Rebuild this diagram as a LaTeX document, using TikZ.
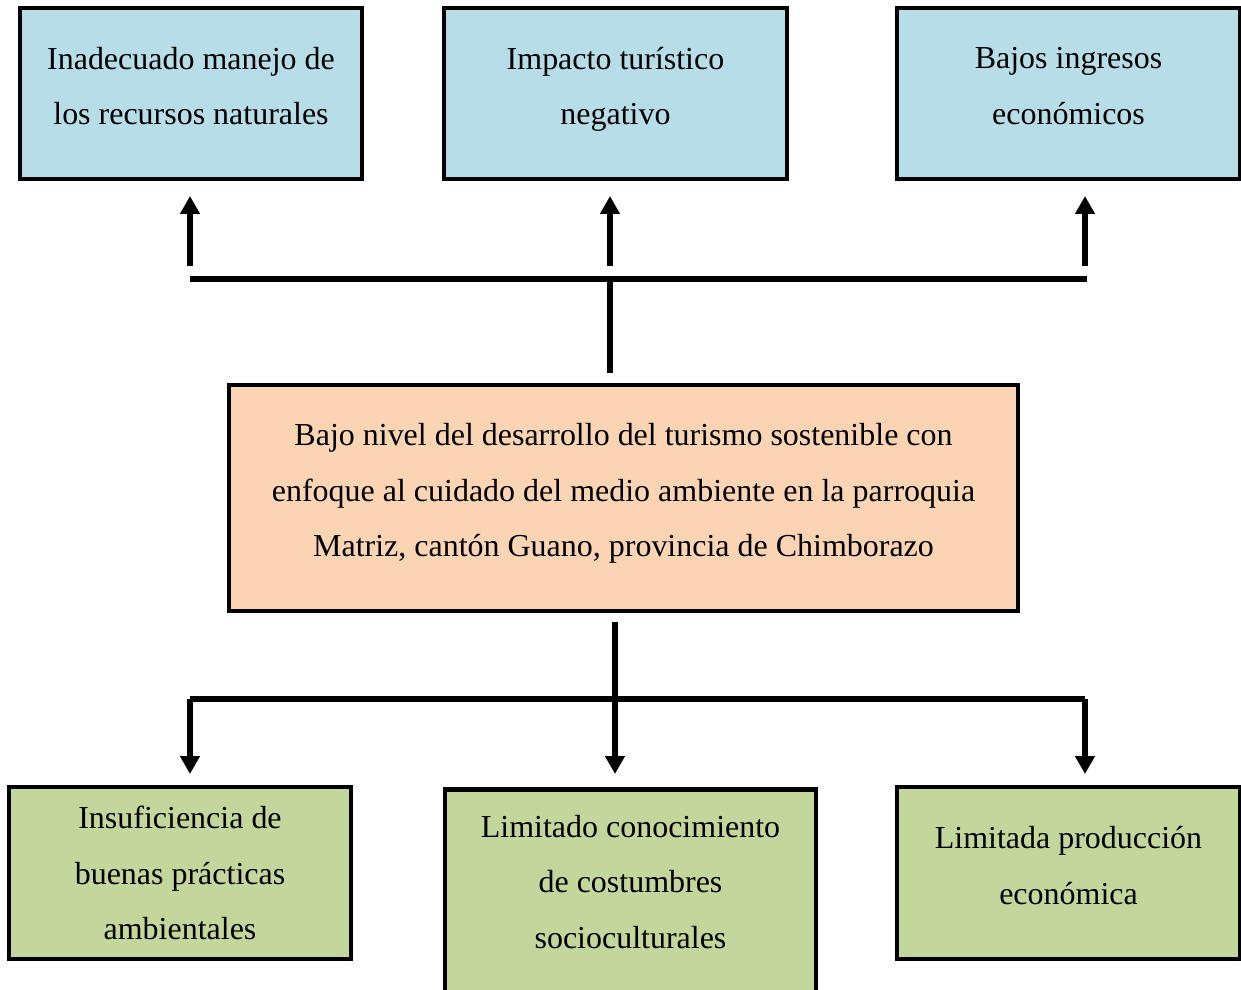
\documentclass[tikz,border=0pt]{standalone}
\usepackage{fontspec}
\setmainfont{Liberation Serif}
\usetikzlibrary{arrows.meta}
\definecolor{efecto}{HTML}{B7DDE8}
\definecolor{problema}{HTML}{FBD4B4}
\definecolor{causa}{HTML}{C3D69B}
\tikzset{
  caja/.style={rectangle, draw, line width=2.6pt, align=center,
    font=\fontsize{18.2pt}{31.5pt}\selectfont},
  subir/.style={execute at end node={\rule[-#1]{0pt}{0pt}}},
  linea/.style={line width=3.3pt},
  flecha/.style={line width=3.3pt, -{Triangle[length=0.36cm,width=0.38cm]}}
}
\begin{document}
\begin{tikzpicture}[x=0.02cm, y=-0.02cm]
        \useasboundingbox (0,0) rectangle (1241,990);
        % Nodes
        \node (e1) [caja, subir=0.3cm, fill=efecto, minimum width=6.84cm, minimum height=3.42cm] at (191,93.5) {Inadecuado manejo de\\los recursos naturales};
        \node (e2) [caja, subir=0.3cm, fill=efecto, minimum width=6.86cm, minimum height=3.42cm] at (615.5,93.5) {Impacto turístico\\negativo};
        \node (e3) [caja, subir=0.3cm, fill=efecto, minimum width=6.86cm, minimum height=3.42cm] at (1068.5,93.5) {Bajos ingresos\\económicos};
        \node (p) [caja, subir=0.32cm, fill=problema, minimum width=15.78cm, minimum height=4.52cm] at (623.5,498) {Bajo nivel del desarrollo del turismo sostenible con\\enfoque al cuidado del medio ambiente en la parroquia\\Matriz, cantón Guano, provincia de Chimborazo};
        \node (c1) [caja, fill=causa, minimum width=6.84cm, minimum height=3.44cm] at (180,873) {Insuficiencia de\\buenas prácticas\\ambientales};
        \node (c2) [caja, fill=causa, minimum width=7.42cm, minimum height=4.6cm, anchor=north] at (630.5,787) {};
        \node (c2t) [align=center, font=\fontsize{18.2pt}{31.5pt}\selectfont] at (630.5,882) {Limitado conocimiento\\de costumbres\\socioculturales};
        \node (c3) [caja, subir=0.3cm, fill=causa, minimum width=6.86cm, minimum height=3.44cm] at (1068.5,873) {Limitada producción\\económica};

        % Coordinates
        \coordinate (s1) at (190,266);
        \coordinate (s2) at (610,266);
        \coordinate (s3) at (1085,266);
        \coordinate (hl) at (190,279);
        \coordinate (hr) at (1087,279);
        \coordinate (hm) at (610,279);
        \coordinate (pt) at (610,373);
        \coordinate (pb) at (615,622);
        \coordinate (bm) at (615,699);
        \coordinate (bl) at (190,699);
        \coordinate (br) at (1085,699);
        \coordinate (t1) at (190,774);
        \coordinate (t2) at (615,774);
        \coordinate (t3) at (1085,774);

        % Effects
        \draw[linea] (hl) -- (hr);
        \draw[linea] (hm) -- (pt);
        \draw[flecha] (s1) -- (190,196);
        \draw[flecha] (s2) -- (610,196);
        \draw[flecha] (s3) -- (1085,196);

        % Causes
        \draw[linea] (pb) -- (bm);
        \draw[flecha] (bm) -- (t2);
        \draw[flecha] (bl) -- (t1);
        \draw[flecha] (br) -- (t3);
        \draw[linea] (bl) -- (br);
\end{tikzpicture}
\end{document}
